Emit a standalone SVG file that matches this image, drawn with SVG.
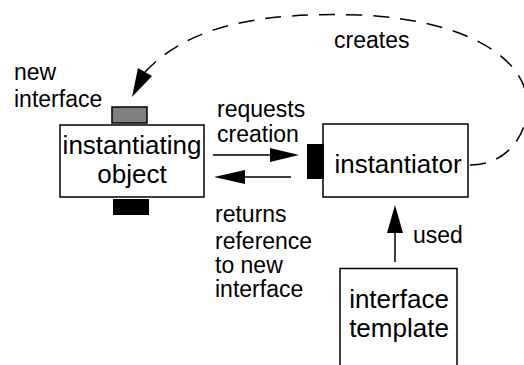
<svg xmlns="http://www.w3.org/2000/svg" width="524" height="365" viewBox="0 0 524 365">
  <style>
    .box { fill: #ffffff; stroke: #000000; stroke-width: 1.5; }
    .line { fill: none; stroke: #000000; stroke-width: 1.5; }
    .dash { fill: none; stroke: #000000; stroke-width: 1.5; stroke-dasharray: 16 11; }
    .head { fill: #000000; stroke: none; }
    .big { font-family: "Liberation Sans", Arial, sans-serif; font-size: 26px; fill: #000000; }
    .lbl { font-family: "Liberation Sans", Arial, sans-serif; font-size: 23px; fill: #000000; }
  </style>
  <rect width="524" height="365" fill="#ffffff"/>

  <g id="connectors">
    <!-- creates: dashed arc from instantiator back to the new interface -->
    <path class="dash" d="M 470 165 C 510 165, 530 130, 527 100 C 524 60, 470 20, 360 15 C 260 12, 190 25, 145 72"/>
    <polygon class="head" points="132,97 138,68 152,76"/>
    <!-- requests creation -->
    <line class="line" x1="213" y1="155" x2="272" y2="155"/>
    <polygon class="head" points="299,155 270,148 270,162"/>
    <!-- returns reference -->
    <line class="line" x1="243" y1="177" x2="291" y2="177"/>
    <polygon class="head" points="214,177 245,170 245,184"/>
    <!-- used -->
    <line class="line" x1="395" y1="262" x2="395" y2="231"/>
    <polygon class="head" points="395,205 387,233 403,233"/>
  </g>

  <g id="instantiating-object">
    <rect class="box" x="60" y="125" width="144" height="72"/>
    <rect x="112" y="107" width="35" height="16" fill="#808080" stroke="#000000" stroke-width="1.5"/>
    <rect x="113" y="199" width="36" height="16" fill="#000000"/>
    <text class="big" x="132" y="154" text-anchor="middle">instantiating</text>
    <text class="big" x="132" y="183" text-anchor="middle">object</text>
  </g>

  <g id="new-interface-label">
    <text class="lbl" x="14" y="80">new</text>
    <text class="lbl" x="14" y="107">interface</text>
  </g>

  <g id="instantiator">
    <rect class="box" x="323" y="124" width="145" height="73"/>
    <rect x="307" y="144" width="17" height="35" fill="#000000"/>
    <text class="big" x="398" y="173" text-anchor="middle">instantiator</text>
  </g>

  <g id="interface-template">
    <path class="line" d="M 340 368 L 340 268.5 L 457 268.5 L 457 368"/>
    <text class="big" x="399" y="308" text-anchor="middle">interface</text>
    <text class="big" x="399" y="337" text-anchor="middle">template</text>
  </g>

  <g id="labels">
    <text class="lbl" x="334" y="48">creates</text>
    <text class="lbl" x="217" y="117">requests</text>
    <text class="lbl" x="217" y="142">creation</text>
    <text class="lbl" x="215" y="222">returns</text>
    <text class="lbl" x="215" y="249">reference</text>
    <text class="lbl" x="215" y="273">to new</text>
    <text class="lbl" x="215" y="297">interface</text>
    <text class="lbl" x="413" y="243">used</text>
  </g>
</svg>
